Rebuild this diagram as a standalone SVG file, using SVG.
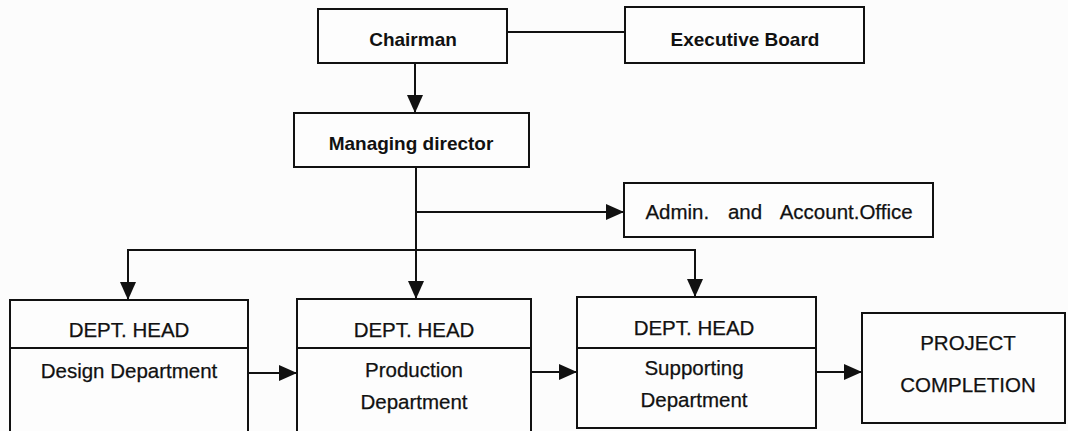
<svg xmlns="http://www.w3.org/2000/svg" width="1068" height="431" viewBox="0 0 1068 431">
  <style>
    .box { fill: #fdfdfd; stroke: #111; stroke-width: 2; }
    .div { stroke: #111; stroke-width: 2; }
    .wire { fill: none; stroke: #111; stroke-width: 2; }
    .arrow { marker-end: url(#head); }
    .top { font-family: "Liberation Sans", Arial, sans-serif; font-size: 19px; font-weight: bold; fill: #111; text-anchor: middle; }
    .lbl { font-family: "Liberation Sans", Arial, sans-serif; font-size: 20.5px; fill: #111; text-anchor: middle; stroke: #111; stroke-width: 0.25; }
  </style>
  <defs>
    <marker id="head" markerUnits="userSpaceOnUse" markerWidth="18" markerHeight="16" refX="18" refY="8" orient="auto">
      <path d="M0,0 L18,8 L0,16 Z" fill="#111"/>
    </marker>
  </defs>

  <rect width="1068" height="431" fill="#fcfcfc"/>

  <!-- connectors -->
  <g id="connectors">
    <line class="wire" x1="507" y1="32" x2="625" y2="32"/>
    <line class="wire arrow" x1="415" y1="63" x2="415" y2="113"/>
    <line class="wire arrow" x1="416" y1="167" x2="416" y2="299"/>
    <line class="wire arrow" x1="416" y1="212" x2="624" y2="212"/>
    <polyline class="wire arrow" points="416,250 128,250 128,300"/>
    <polyline class="wire arrow" points="416,250 695,250 695,297"/>
    <line class="wire arrow" x1="248" y1="373" x2="297" y2="373"/>
    <line class="wire arrow" x1="531" y1="372" x2="577" y2="372"/>
    <line class="wire arrow" x1="816" y1="372" x2="862" y2="372"/>
  </g>

  <g id="chairman">
    <rect class="box" x="318" y="9" width="189" height="54"/>
    <text class="top" x="413" y="46">Chairman</text>
  </g>

  <g id="executive-board">
    <rect class="box" x="625" y="7" width="239" height="56"/>
    <text class="top" x="745" y="46">Executive Board</text>
  </g>

  <g id="managing-director">
    <rect class="box" x="294" y="113" width="235" height="54"/>
    <text class="top" x="411" y="150">Managing director</text>
  </g>

  <g id="admin-office">
    <rect class="box" x="624" y="183" width="309" height="54"/>
    <text class="lbl" x="779" y="219" word-spacing="13">Admin. and Account.Office</text>
  </g>

  <g id="design-dept">
    <rect class="box" x="10" y="300" width="238" height="145"/>
    <line class="div" x1="10" y1="348" x2="248" y2="348"/>
    <text class="lbl" x="129" y="337">DEPT. HEAD</text>
    <text class="lbl" x="129" y="378">Design Department</text>
  </g>

  <g id="production-dept">
    <rect class="box" x="297" y="299" width="234" height="146"/>
    <line class="div" x1="297" y1="348" x2="531" y2="348"/>
    <text class="lbl" x="414" y="337">DEPT. HEAD</text>
    <text class="lbl" x="414" y="377">Production</text>
    <text class="lbl" x="414" y="409">Department</text>
  </g>

  <g id="supporting-dept">
    <rect class="box" x="577" y="297" width="239" height="131"/>
    <line class="div" x1="577" y1="348" x2="816" y2="348"/>
    <text class="lbl" x="694" y="335">DEPT. HEAD</text>
    <text class="lbl" x="694" y="375">Supporting</text>
    <text class="lbl" x="694" y="407">Department</text>
  </g>

  <g id="project-completion">
    <rect class="box" x="862" y="313" width="203" height="110"/>
    <text class="lbl" x="968" y="350">PROJECT</text>
    <text class="lbl" x="968" y="392">COMPLETION</text>
  </g>
</svg>
